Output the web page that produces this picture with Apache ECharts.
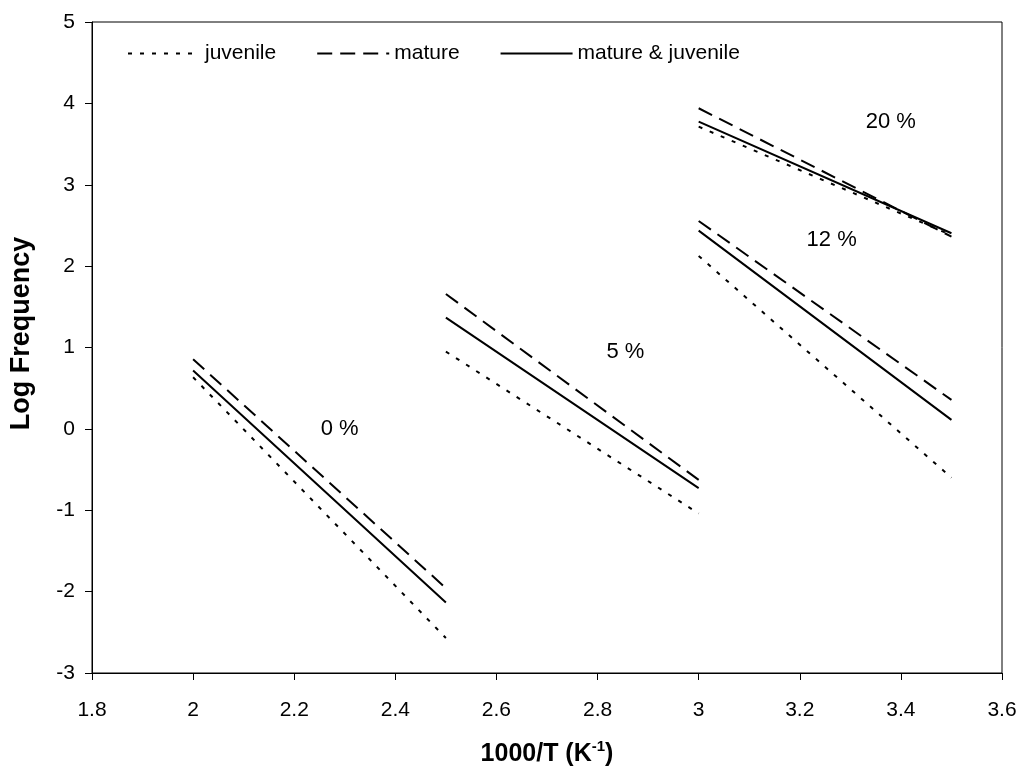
<!DOCTYPE html>
<html>
<head>
<meta charset="utf-8">
<script src="https://cdn.jsdelivr.net/npm/echarts@6/dist/echarts.min.js"></script>
<style>
html,body{margin:0;padding:0;background:#fff;}
#chart{width:1025px;height:776px;}
</style>
</head>
<body>
<div id="chart"></div>
<script>
// Segment x-ranges (1000/T) for moisture contents 0 %, 5 %, 12 %, 20 %
const segStart = [2.0, 2.5, 3.0, 3.0];
const segEnd   = [2.5, 3.0, 3.5, 3.5];
// Log Frequency at segment start / end
const juvenileStart = [0.635, 0.95, 2.125, 3.714];
const juvenileEnd   = [-2.57, -1.04, -0.60, 2.38];
const matureStart   = [0.856, 1.658, 2.555, 3.94];
const matureEnd     = [-1.957, -0.627, 0.356, 2.362];
const bothStart     = [0.716, 1.367, 2.436, 3.775];
const bothEnd       = [-2.134, -0.729, 0.111, 2.404];
// Annotations
const annoText = ['0 %', '5 %', '12 %', '20 %'];
const annoX = [2.29, 2.855, 3.263, 3.38];
const annoY = [0.0, 0.95, 2.32, 3.77];
// Axis ticks
const xMin = 1.8, xMax = 3.6, xStep = 0.2;
const yMin = -3, yMax = 5, yStep = 1;

function buildSegments(starts, ends) {
  const d = [];
  for (let i = 0; i < starts.length; i++) {
    d.push([segStart[i], starts[i]]);
    d.push([segEnd[i], ends[i]]);
    d.push([segEnd[i], '-']);
  }
  return d;
}

const FONT = 'Liberation Sans, Arial, sans-serif';
const chart = echarts.init(document.getElementById('chart'));
chart.setOption({
  animation: false,
  backgroundColor: '#fff',
  textStyle: {fontFamily: FONT, color: '#000'},
  grid: {left: 92, right: 23, top: 22, bottom: 103, show: true, borderColor: '#000', borderWidth: 1, backgroundColor: 'transparent'},
  legend: {
    left: 122, top: 38,
    itemWidth: 72, itemHeight: 14, itemGap: 40,
    itemStyle: {color: 'rgba(0,0,0,0)', borderWidth: 0, opacity: 0},
    textStyle: {fontFamily: FONT, fontSize: 21, color: '#000'},
    data: ['juvenile', 'mature', 'mature & juvenile']
  },
  xAxis: {
    type: 'value', min: xMin, max: xMax, interval: xStep,
    axisLine: {show: true, onZero: false, lineStyle: {color: '#000', width: 1}},
    axisTick: {show: true, inside: false, length: 7, lineStyle: {color: '#000'}},
    axisLabel: {fontFamily: FONT, fontSize: 21, color: '#000', margin: 27},
    splitLine: {show: false},
    name: '{a|1000/T (K}{s|-1}{a|)}',
    nameLocation: 'middle', nameGap: 66,
    nameTextStyle: {
      rich: {
        a: {fontFamily: FONT, fontSize: 25, fontWeight: 'bold', color: '#000', verticalAlign: 'bottom', lineHeight: 28},
        s: {fontFamily: FONT, fontSize: 15, fontWeight: 'bold', color: '#000', verticalAlign: 'top', padding: [0, 0, 12, 0], lineHeight: 28}
      }
    }
  },
  yAxis: {
    type: 'value', min: yMin, max: yMax, interval: yStep,
    axisLine: {show: true, onZero: false, lineStyle: {color: '#000', width: 1}},
    axisTick: {show: true, inside: false, length: 7, lineStyle: {color: '#000'}},
    axisLabel: {fontFamily: FONT, fontSize: 21, color: '#000', margin: 17},
    splitLine: {show: false},
    name: 'Log Frequency',
    nameLocation: 'middle', nameGap: 57,
    nameTextStyle: {fontFamily: FONT, fontSize: 27, fontWeight: 'bold', color: '#000', padding: [0, 0, 0, 28]}
  },
  series: [
    {
      name: 'juvenile', type: 'line', symbol: 'none', connectNulls: false,
      data: buildSegments(juvenileStart, juvenileEnd),
      lineStyle: {color: '#000', width: 2, type: [4, 8]},
      itemStyle: {color: '#000'}
    },
    {
      name: 'mature', type: 'line', symbol: 'none', connectNulls: false,
      data: buildSegments(matureStart, matureEnd),
      lineStyle: {color: '#000', width: 2, type: [15, 8]},
      itemStyle: {color: '#000'}
    },
    {
      name: 'mature & juvenile', type: 'line', symbol: 'none', connectNulls: false,
      data: buildSegments(bothStart, bothEnd),
      lineStyle: {color: '#000', width: 2, type: 'solid'},
      itemStyle: {color: '#000'}
    },
    {
      name: 'labels', type: 'scatter', symbolSize: 0, silent: true,
      itemStyle: {opacity: 1, color: '#000'},
      data: annoText.map((t, i) => ({name: t, value: [annoX[i], annoY[i]]})),
      label: {show: true, position: 'inside', formatter: '{b}', fontFamily: FONT, fontSize: 22, color: '#000', opacity: 1}
    }
  ]
});
</script>
</body>
</html>
